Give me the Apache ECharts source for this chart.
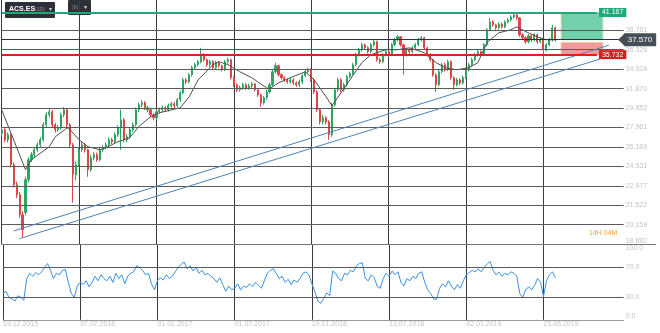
<!DOCTYPE html>
<html><head><meta charset="utf-8">
<script src="https://cdn.jsdelivr.net/npm/echarts@6/dist/echarts.min.js"></script>
<style>html,body{margin:0;padding:0;background:#fff}#c{width:660px;height:333px}</style>
</head><body><div id="c"></div>
<script>
// ---- data ----
const opens = [27.40,27.74,26.83,27.28,24.67,23.06,22.30,20.85,21.00,23.45,
25.09,25.51,25.94,26.38,26.83,28.22,29.18,29.48,28.22,27.74,
27.93,29.18,29.68,28.22,26.38,23.85,24.67,25.94,26.38,25.94,
24.26,25.25,25.51,25.09,25.94,26.12,26.38,26.83,26.65,27.28,
27.93,28.70,26.83,27.10,27.74,28.22,29.68,30.18,30.38,29.88,
29.68,29.18,28.89,29.48,29.68,29.88,29.68,30.08,30.28,30.08,
30.69,31.42,32.82,32.60,33.39,34.19,34.54,34.89,35.71,35.12,
34.54,34.89,34.19,34.77,34.42,33.96,34.89,35.12,33.06,32.28,
31.74,31.95,32.28,31.95,32.17,32.38,31.74,31.21,30.38,30.90,
31.52,32.28,33.73,34.42,33.39,33.06,32.82,32.60,32.82,32.49,
32.28,32.60,33.28,33.73,33.96,32.82,31.52,29.68,28.50,28.89,
28.50,27.28,30.18,31.74,32.82,31.74,32.28,33.17,33.51,34.54,
35.71,36.32,36.94,36.56,36.08,36.94,37.31,35.12,34.89,35.71,
36.08,35.71,36.94,37.56,37.94,36.94,35.71,36.32,36.08,36.56,
36.94,37.56,37.81,36.56,35.71,35.12,33.39,32.28,33.73,34.54,
33.96,34.89,33.06,32.28,32.82,32.49,33.06,33.96,34.54,35.12,
35.71,36.08,35.71,36.94,38.84,39.89,39.49,39.10,39.62,39.23,
39.89,40.16,40.56,40.84,40.43,38.19,37.81,37.31,38.07,37.56,
38.19,37.31,37.56,36.32,36.94,37.56,39.10];
const closes = [27.74,26.83,27.28,24.67,23.06,22.30,20.85,19.83,23.45,25.09,
25.51,25.94,26.38,26.83,28.22,29.18,29.48,28.22,27.74,27.93,
29.18,29.68,28.22,26.38,23.85,24.67,25.94,26.38,25.94,24.26,
25.25,25.51,25.09,25.94,26.12,26.38,26.83,26.65,27.28,27.93,
28.70,26.83,27.10,27.74,28.22,29.68,30.18,30.38,29.88,29.68,
29.18,28.89,29.48,29.68,29.88,29.68,30.08,30.28,30.08,30.69,
31.42,32.82,32.60,33.39,34.19,34.54,34.89,35.71,35.12,34.54,
34.89,34.19,34.77,34.42,33.96,34.89,35.12,33.06,32.28,31.74,
31.95,32.28,31.95,32.17,32.38,31.74,31.21,30.38,30.90,31.52,
32.28,33.73,34.42,33.39,33.06,32.82,32.60,32.82,32.49,32.28,
32.60,33.28,33.73,33.96,32.82,31.52,29.68,28.50,28.89,28.50,
27.28,30.18,31.74,32.82,31.74,32.28,33.17,33.51,34.54,35.71,
36.32,36.94,36.56,36.08,36.94,37.31,35.12,34.89,35.71,36.08,
35.71,36.94,37.56,37.94,36.94,35.71,36.32,36.08,36.56,36.94,
37.56,37.81,36.56,35.71,35.12,33.39,32.28,33.73,34.54,33.96,
34.89,33.06,32.28,32.82,32.49,33.06,33.96,34.54,35.12,35.71,
36.08,35.71,36.94,38.84,39.89,39.49,39.10,39.62,39.23,39.89,
40.16,40.56,40.84,40.43,38.19,37.81,37.31,38.07,37.56,38.19,
37.31,37.56,36.32,36.94,37.56,39.10,37.57];
const lows = [27.20,26.60,26.60,24.45,22.85,22.05,20.65,19.30,20.80,23.25,
24.90,25.30,25.75,26.15,26.65,28.00,28.95,28.00,27.50,27.55,
27.75,28.95,28.00,26.15,21.71,23.40,24.50,25.75,25.70,23.69,
24.10,25.05,24.90,24.95,25.75,25.95,26.20,26.45,26.50,27.10,
25.94,26.60,26.60,26.90,27.55,28.05,29.45,29.95,29.65,29.45,
28.95,28.65,28.70,29.30,29.45,29.45,29.50,29.90,29.85,29.90,
30.50,31.25,32.35,32.45,33.20,34.00,34.35,34.70,34.90,34.30,
34.30,34.00,34.00,34.20,33.75,33.80,34.65,32.85,32.05,31.50,
31.55,31.75,31.75,31.75,31.95,31.55,31.00,29.98,30.20,30.70,
31.35,32.10,33.55,33.20,32.85,32.60,32.40,32.40,32.25,32.05,
32.05,32.40,33.10,33.50,32.60,31.30,29.45,28.25,28.25,28.25,
26.83,27.10,30.00,31.55,31.50,31.55,32.10,33.00,33.35,34.35,
35.50,36.10,36.30,35.85,35.90,36.70,34.90,34.65,34.70,35.50,
35.45,35.55,36.75,37.35,36.70,33.39,35.50,35.85,35.90,36.35,
36.75,37.35,36.35,35.50,34.90,33.15,31.52,32.10,33.55,33.75,
33.80,32.85,31.74,32.10,32.25,32.30,32.90,33.75,34.35,34.95,
35.50,35.45,35.55,36.75,38.65,39.25,38.85,38.90,39.00,39.05,
39.70,39.95,40.35,40.20,37.95,37.55,37.05,37.10,37.30,37.35,
37.05,37.10,34.19,36.10,36.75,37.35,37.35];
const highs = [28.00,27.95,27.50,27.40,24.85,23.30,22.50,21.10,23.70,25.30,
25.75,26.15,26.60,27.05,28.45,29.45,29.75,29.65,28.40,28.20,
29.40,29.95,29.85,28.40,26.55,24.95,26.15,26.65,26.55,26.05,
25.45,25.75,25.70,26.15,26.35,26.60,27.05,27.00,27.50,28.15,
29.68,28.85,27.35,27.95,28.45,29.90,30.40,30.65,30.55,30.05,
29.85,29.35,29.70,29.90,30.10,30.05,30.30,30.50,30.45,30.90,
31.65,33.05,33.00,33.60,34.40,34.75,35.10,36.56,35.90,35.25,
35.10,35.05,35.00,34.95,34.55,35.10,35.36,35.25,33.20,32.45,
32.20,32.50,32.45,32.40,32.60,32.50,31.90,31.35,31.10,31.75,
32.50,33.95,34.77,34.55,33.55,33.20,33.00,33.05,33.00,32.65,
32.85,33.50,33.95,34.20,34.10,33.00,31.70,29.85,29.15,29.05,
28.65,30.40,31.95,33.05,33.00,32.50,33.40,33.75,34.75,35.95,
36.55,37.20,37.10,36.75,37.15,37.55,37.45,35.35,35.95,36.30,
36.30,37.15,37.80,38.19,38.05,37.05,36.55,36.50,36.80,37.15,
37.80,38.07,37.95,36.70,35.90,35.25,33.55,33.95,34.75,34.75,
35.10,35.05,33.20,33.05,33.00,33.30,34.20,34.75,35.35,35.95,
36.30,36.25,37.15,39.05,40.43,40.10,39.65,39.85,39.80,40.10,
40.40,40.80,41.11,41.00,40.55,38.40,38.00,38.30,38.25,38.40,
38.35,37.80,37.70,37.15,37.80,39.49,39.25];
// moving average line, read at points
const maIdx = [0,8,10,16,18,22,23,26,29,33,35,39,43,46,50,53,60,63,66,71,73,76,80,84,89,90,93,97,102,105,109,111,114,117,121,124,129,133,137,142,146,149,153,157,160,163,167,171,173,177,180,183,186];
const maVal = [29.68,24.26,25.09,26.21,27.10,27.93,27.74,26.83,26.21,25.94,26.12,26.65,27.01,28.03,28.99,29.38,29.88,31.00,32.82,34.54,34.89,34.54,33.73,33.06,31.95,31.85,32.49,33.06,33.73,32.82,31.00,30.08,31.42,32.82,34.77,35.71,36.32,36.32,36.56,35.96,34.77,34.19,33.96,34.19,34.77,37.18,38.45,38.84,39.23,38.45,37.94,37.56,37.56];
const rsi = [35,38,30,28,25,32,30,26,55,62,
58,63,60,64,70,75,66,55,62,60,
66,67,50,35,30,45,50,47,52,44,
50,58,52,60,55,52,58,50,62,55,
60,48,58,62,64,72,70,66,60,62,
48,40,52,56,53,60,55,58,64,70,
74,77,68,72,65,70,62,66,60,62,
58,55,50,56,47,38,45,40,42,48,
40,45,43,48,44,50,46,42,52,62,
66,68,62,55,58,50,54,47,53,50,
55,62,64,60,48,38,25,22,28,36,
32,65,62,55,52,62,60,66,64,72,
75,76,55,52,60,56,45,42,55,62,
58,65,60,64,50,45,55,52,58,55,
62,64,50,40,35,28,27,42,48,44,
52,45,40,47,42,52,60,63,66,64,
68,64,70,74,78,66,60,64,58,62,
60,64,62,58,35,30,40,44,40,46,
55,50,31,52,60,64,56];
const priceTicks = [18.882,20.159,21.522,22.977,24.531,26.189,27.961,29.852,31.870,34.024,36.326,38.781];
const rsiTicks = [100,70,30,0];
const dateTicks = ['19.12.2015','07.07.2016','01.01.2017','01.07.2017','19.01.2018','13.07.2018','02.01.2019','25.06.2019'];
const targetPrice = 41.167, stopPrice = 35.732, lastPrice = 37.570, riskTop = 37.20;
const trendUpper = [[4,19.74],[204,36.88]];
const trendLower = [[6,19.24],[201,35.20]];
const boxFrom = 188, boxTo = 202, levelEnd = 200;
const slotCount = 210;      // weekly slots incl. empty future space
const tickEvery = 26;

// ---- chart ----
const categories = [];
for (let i = 0; i < slotCount; i++) categories.push(String(i));
const isTick = (i) => i % tickEvery === 0 && (i / tickEvery) < dateTicks.length;
const FONT = 'Liberation Sans, Arial, sans-serif';
const axisLabelColor = '#c4c4c4';
const gridColor = '#5a5a5a';

const chart = echarts.init(document.getElementById('c'));
const candleData = opens.map((o, i) => [o, closes[i], lows[i], highs[i]]);
const maData = maIdx.map((x, i) => [x, maVal[i]]);

const hiddenY = {axisLine:{show:false},axisTick:{show:false},axisLabel:{show:false},splitLine:{show:false}};

const gridLines = priceTicks.map((v, i) => ({
  yAxis: v,
  lineStyle: {color: i === 0 ? '#777' : gridColor, width: 1, type: 'solid'},
  label: {show: true, position: 'end', formatter: v.toFixed(3), color: axisLabelColor, fontSize: 7, fontFamily: FONT, distance: 2,
          verticalAlign: i === 0 ? 'bottom' : 'middle'}
}));

const rsiLines = rsiTicks.map((v) => ({
  yAxis: v,
  lineStyle: {color: v === 0 ? '#9a9a9a' : (v === 100 ? 'rgba(0,0,0,0)' : gridColor), width: 1, type: 'solid'},
  label: {show: true, position: 'end', formatter: v.toFixed(1), color: axisLabelColor, fontSize: 7, fontFamily: FONT, distance: 2,
          verticalAlign: v === 100 ? 'top' : (v === 0 ? 'bottom' : 'middle')}
}));

const option = {
  animation: false,
  backgroundColor: '#ffffff',
  textStyle: {fontFamily: FONT},
  grid: [
    {left: 1.7, right: 36.3, top: 0, height: 244.5},
    {left: 1.7, right: 36.3, top: 244.8, height: 75}
  ],
  xAxis: [
    {type: 'category', gridIndex: 0, data: categories, boundaryGap: false,
     axisLine: {show: false}, axisTick: {show: false}, axisLabel: {show: false},
     splitLine: {show: true, interval: (i) => isTick(i), lineStyle: {color: '#3c3c3c', width: 1}}},
    {type: 'category', gridIndex: 1, data: categories, boundaryGap: false,
     axisLine: {show: false}, axisTick: {show: false},
     axisLabel: {show: true, interval: (i) => isTick(i), formatter: (v, i) => dateTicks[i / tickEvery] || '',
                 align: 'left', color: axisLabelColor, fontSize: 7, fontFamily: FONT, margin: 1},
     splitLine: {show: true, interval: (i) => isTick(i), lineStyle: {color: '#3c3c3c', width: 1}}}
  ],
  yAxis: [
    Object.assign({type: 'log', gridIndex: 0, min: 18.86, max: 42.94, position: 'right'}, hiddenY),
    Object.assign({type: 'value', gridIndex: 1, min: 0, max: 100, position: 'right'}, hiddenY)
  ],
  series: [
    { // horizontal price grid
      type: 'line', xAxisIndex: 0, yAxisIndex: 0, data: maData, z: 1, silent: true,
      showSymbol: false, lineStyle: {opacity: 0}, tooltip: {show: false},
      markLine: {symbol: ['none','none'], silent: true, animation: false, data: gridLines}
    },
    {
      type: 'candlestick', xAxisIndex: 0, yAxisIndex: 0, data: candleData, z: 3, barWidth: 1.6,
      itemStyle: {color: '#2fa565', color0: '#e04545', borderColor: '#2fa565', borderColor0: '#e04545', borderWidth: 1},
      markArea: {silent: true, data: [
        [{coord: [boxFrom, targetPrice], itemStyle: {color: 'rgba(60,190,140,0.72)', borderColor: '#c9d98a', borderWidth: 1}}, {coord: [boxTo, lastPrice]}],
        [{coord: [boxFrom, riskTop], itemStyle: {color: 'rgba(238,120,120,0.75)', borderColor: '#e9c0a0', borderWidth: 1}}, {coord: [boxTo, stopPrice]}]
      ]}
    },
    {
      type: 'line', xAxisIndex: 0, yAxisIndex: 0, data: maData, z: 4, showSymbol: false,
      lineStyle: {color: '#4f4f4f', width: 1},
      markLine: {symbol: ['none','none'], silent: true, animation: false, data: [
        [{coord: trendUpper[0], lineStyle: {color: '#4f82b8', width: 1, type: 'solid'}}, {coord: trendUpper[1]}],
        [{coord: trendLower[0], lineStyle: {color: '#4f82b8', width: 1, type: 'solid'}}, {coord: trendLower[1]}],
        {yAxis: lastPrice, lineStyle: {color: '#2e3238', width: 1, type: 'solid'},
         label: {show: true, position: 'end', formatter: lastPrice.toFixed(3), color: '#fff', backgroundColor: '#474e57',
                 fontSize: 8, fontFamily: FONT, padding: [3,4,2,4], borderRadius: 1, distance: 0}},
        [{coord: [0, targetPrice], lineStyle: {color: '#1fa97a', width: 2, type: 'solid'},
          label: {show: true, position: 'end', formatter: targetPrice.toFixed(3), color: '#fff', backgroundColor: '#1fa97a',
                  fontSize: 7, fontFamily: FONT, padding: [1,3,1,3], distance: 2}}, {coord: [levelEnd, targetPrice]}],
        [{coord: [0, stopPrice], lineStyle: {color: '#e02020', width: 2, type: 'solid'},
          label: {show: true, position: 'end', formatter: stopPrice.toFixed(3), color: '#fff', backgroundColor: '#d81e1e',
                  fontSize: 7, fontFamily: FONT, padding: [1,3,1,3], distance: 2}}, {coord: [levelEnd, stopPrice]}]
      ]}
    },
    {
      type: 'line', xAxisIndex: 1, yAxisIndex: 1, data: rsi, z: 3, showSymbol: false,
      lineStyle: {color: '#3a92e2', width: 1},
      markLine: {symbol: ['none','none'], silent: true, animation: false, data: rsiLines}
    }
  ],
  graphic: [
    {type: 'rect', left: 5, top: 2, shape: {width: 50, height: 16, r: 1}, style: {fill: '#2c3137'}},
    {type: 'text', left: 9, top: 6, style: {text: 'ACS.ES', fill: '#ffffff', font: 'bold 7px ' + FONT}},
    {type: 'text', left: 35, top: 7, style: {text: '(1D)', fill: '#8a9099', font: '5px ' + FONT}},
    {type: 'text', left: 49, top: 6, style: {text: '▾', fill: '#cfd3d8', font: '6px ' + FONT}},
    {type: 'rect', left: 68, top: 0, shape: {width: 23, height: 15, r: 1}, style: {fill: '#2c3137'}},
    {type: 'text', left: 72, top: 5, style: {text: '(II)', fill: '#8a9099', font: '5px ' + FONT}},
    {type: 'text', left: 84, top: 4, style: {text: '▾', fill: '#cfd3d8', font: '6px ' + FONT}},
    {type: 'polygon', shape: {points: [[618, 39.8], [624, 34.3], [624, 45.3]]}, style: {fill: '#474e57'}, z: 100},
    {type: 'line', shape: {x1: 623, y1: 244.5, x2: 656, y2: 244.5}, style: {stroke: '#777', lineWidth: 1}},
    {type: 'text', left: 589, top: 230, style: {text: '14H 04M', fill: '#f2a43a', font: '7px ' + FONT}}
  ]
};
chart.setOption(option);
</script>
</body></html>
